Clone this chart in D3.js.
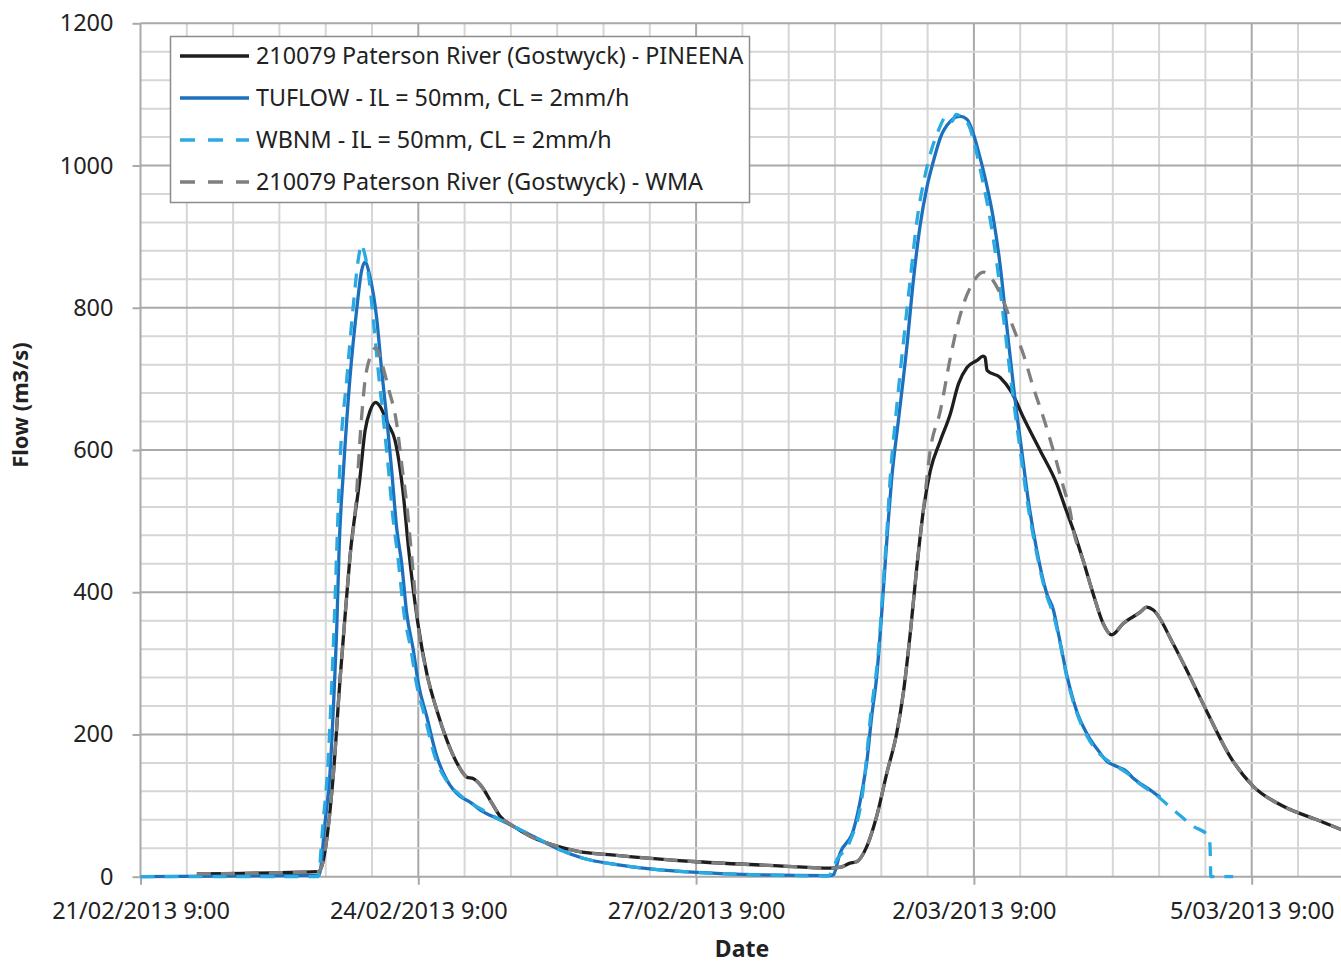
<!DOCTYPE html>
<html>
<head>
<meta charset="utf-8">
<script src="https://cdn.jsdelivr.net/npm/d3@7"></script>
<style>
  html, body { margin: 0; padding: 0; background: #fff; }
  svg { display: block; }
  text { font-family: "Noto Sans", "Open Sans", sans-serif; fill: #222; }
</style>
</head>
<body>
<svg id="chart" width="1341" height="963"></svg>
<script>
// ---- DATA (time = hours after 21/02/2013 9:00, flow in m3/s) ----
const startTime = new Date(2013, 1, 21, 9, 0);
const xTickLabels = ["21/02/2013 9:00", "24/02/2013 9:00", "27/02/2013 9:00", "2/03/2013 9:00", "5/03/2013 9:00"];
const yTicks = [0, 200, 400, 600, 800, 1000, 1200];
const seriesNames = [
  "210079 Paterson River (Gostwyck) - PINEENA",
  "TUFLOW - IL = 50mm, CL = 2mm/h",
  "WBNM - IL = 50mm, CL = 2mm/h",
  "210079 Paterson River (Gostwyck) - WMA"
];

const obsHours = [14.6, 46.0, 46.8, 50.0, 51.7, 53.0, 54.3, 56.9, 58.2, 59.5, 61.0, 62.0, 64.1, 66.0, 68.0, 69.5, 71.9, 74.2, 76.8, 79.4, 82.0, 84.6, 86.2, 88.4, 91.0, 93.2, 96.6, 101.0, 107.9, 113.1, 123.4, 144.2, 166.5, 178.7, 181.2, 183.9, 185.6, 188.2, 190.8, 193.4, 196.0, 197.7, 199.5, 201.2, 202.9, 204.7, 207.3, 209.9, 212.0, 214.2, 216.8, 218.4, 218.9, 219.4, 222.8, 225.8, 228.8, 233.2, 237.5, 239.6, 241.8, 244.3, 246.9, 249.5, 251.7, 254.7, 259.1, 260.8, 262.5, 267.6, 271.2, 276.4, 282.4, 288.4, 296.2, 304.9, 312.2];
const obsFlow  = [4, 7, 12, 145, 276, 365, 450, 562, 627, 655, 667, 662, 637, 613, 543, 460, 356, 286, 234, 192, 160, 140, 138, 127, 104, 85, 71, 57, 43, 36, 30, 21, 15, 12, 13, 19, 21, 42, 85, 145, 202, 258, 342, 435, 515, 571, 613, 651, 693, 716, 726, 732, 730, 712, 702, 681, 646, 599, 552, 520, 487, 445, 398, 356, 340, 356, 372, 379, 375, 328, 290, 232, 169, 127, 99, 80, 64];

const wmaHours = [14.6, 46.0, 46.8, 50.0, 51.7, 53.0, 54.3, 55.6, 57.3, 58.2, 59.9, 61.0, 62.5, 64.2, 66.4, 67.7, 69.0, 70.3, 71.9, 74.2, 76.8, 79.4, 82.0, 84.6, 86.2, 88.4, 91.0, 93.2, 96.6, 101.0, 107.9, 113.1, 123.4, 144.2, 166.5, 178.7, 181.2, 183.9, 185.6, 188.2, 190.8, 193.4, 196.0, 197.7, 199.5, 201.2, 202.9, 204.7, 207.3, 209.9, 211.6, 213.3, 215.5, 218.5, 221.0, 223.6, 226.2, 228.8, 231.4, 234.0, 236.6, 239.2, 240.9, 241.8, 244.3, 246.9, 249.5, 251.7, 254.7, 259.1, 260.8, 262.5, 267.6, 271.2, 276.4, 282.4, 288.4, 296.2, 304.9, 312.2];
const wmaFlow  = [4, 7, 12, 145, 276, 365, 450, 510, 646, 698, 735, 744, 723, 688, 637, 580, 524, 450, 356, 286, 234, 192, 160, 140, 138, 127, 104, 85, 71, 57, 43, 36, 30, 21, 15, 12, 13, 19, 21, 42, 85, 145, 202, 258, 342, 435, 515, 600, 655, 730, 772, 805, 833, 850, 838, 810, 772, 735, 688, 646, 599, 548, 515, 487, 445, 398, 356, 340, 356, 372, 379, 375, 328, 290, 232, 169, 127, 99, 80, 64];

const tuflowHours = [0, 46.3, 47.8, 49.1, 50.0, 50.9, 51.5, 52.6, 54.3, 56.0, 57.3, 58.2, 59.5, 61.2, 62.5, 63.8, 65.1, 66.4, 67.7, 69.0, 70.7, 72.0, 74.2, 76.8, 79.4, 82.8, 85.4, 88.0, 93.2, 98.4, 101.7, 108.7, 114.7, 123.4, 132.1, 144.2, 158.0, 178.7, 179.6, 181.3, 184.8, 186.9, 188.3, 189.5, 190.8, 192.1, 193.0, 193.8, 194.7, 196.4, 198.6, 200.3, 202.1, 203.8, 205.5, 207.3, 209.9, 212.4, 214.2, 215.9, 217.6, 219.3, 221.0, 222.8, 224.5, 226.7, 228.4, 230.1, 232.3, 234.9, 236.6, 237.9, 240.1, 242.7, 245.3, 248.7, 250.5, 252.2, 253.9, 255.6, 257.4, 259.1, 261.2, 263.4, 264.3];
const tuflowFlow  = [0, 2, 75, 145, 239, 356, 465, 571, 702, 796, 852, 864, 843, 786, 712, 646, 571, 490, 440, 370, 319, 272, 225, 169, 136, 113, 105, 94, 80, 66, 57, 38, 26, 17, 11, 6, 3, 1.5, 3, 33, 66, 117, 164, 225, 281, 370, 440, 500, 560, 640, 744, 838, 917, 969, 1006, 1039, 1062, 1069, 1065, 1044, 1011, 973, 927, 860, 775, 669, 599, 529, 459, 398, 375, 342, 283, 232, 201, 174, 162, 157, 153, 148, 138, 131, 124, 115, 112];

const wbnmHours = [0, 46.0, 47.3, 48.6, 49.4, 50.3, 50.9, 51.7, 53.5, 55.1, 56.5, 57.3, 57.9, 59.0, 60.3, 61.6, 62.9, 64.3, 65.4, 66.7, 68.3, 70.1, 71.5, 73.7, 76.3, 79.2, 82.8, 88.0, 93.2, 98.4, 101.7, 108.7, 114.7, 123.4, 132.1, 144.2, 158.0, 178.2, 180.6, 183.9, 187.4, 189.2, 191.3, 192.6, 193.5, 194.3, 195.8, 197.9, 199.6, 201.3, 203.1, 204.9, 206.7, 208.9, 210.3, 211.4, 212.9, 214.8, 216.6, 218.4, 220.2, 222.0, 223.8, 226.2, 228.0, 229.8, 232.1, 234.7, 236.5, 237.9, 240.1, 242.7, 245.3, 248.7, 252.2, 255.6, 259.1, 263.4, 267.7, 272.9, 276.8, 277.2, 277.4, 283.2];
const wbnmFlow  = [0, 0, 75, 160, 250, 370, 465, 581, 702, 800, 870, 889, 880, 850, 786, 712, 646, 571, 506, 450, 370, 319, 272, 225, 169, 136, 115, 96, 80, 66, 57, 38, 26, 17, 11, 6, 3, 1, 25, 50, 127, 225, 320, 420, 490, 560, 650, 760, 845, 925, 980, 1020, 1048, 1069, 1062, 1072, 1068, 1055, 1020, 975, 925, 860, 780, 672, 600, 529, 459, 398, 370, 340, 280, 230, 198, 172, 158, 146, 130, 114, 94, 71, 57, 43, 0, 0];

// ---- CHART ----
const svg = d3.select("#chart");
const HOUR = 3600 * 1000;
const toPts = (hs, vs) => hs.map((h, i) => ({ t: new Date(startTime.getTime() + h * HOUR), v: vs[i] }));

const pL = 140.5, pR = 1344.3, pT = 23.3, pB = 876.7;
const endTime = new Date(startTime.getTime() + 13 * 24 * HOUR);
const x = d3.scaleTime().domain([startTime, endTime]).range([pL, pR]);
const y = d3.scaleLinear().domain([0, 1200]).range([pB, pT]);

// gridlines
const g = svg.append("g");
const minorX = d3.range(0, 13 * 24 + 1, 12).map(h => new Date(startTime.getTime() + h * HOUR));
minorX.forEach((d, i) => {
  if (i === 0) return;
  const major = (i % 6) === 0;
  g.append("line").attr("x1", x(d)).attr("x2", x(d)).attr("y1", pT).attr("y2", pB)
    .attr("stroke", major ? "#a9a9a9" : "#d6d6d6").attr("stroke-width", 2);
});
d3.range(40, 1201, 40).forEach(v => {
  const major = v % 200 === 0;
  g.append("line").attr("x1", pL).attr("x2", 1341).attr("y1", y(v)).attr("y2", y(v))
    .attr("stroke", major ? "#a9a9a9" : "#d6d6d6").attr("stroke-width", 2);
});

// axes
const majorTimes = xTickLabels.map((_, i) => new Date(startTime.getTime() + i * 72 * HOUR));
const xAxis = d3.axisBottom(x).tickValues(majorTimes).tickFormat((d, i) => xTickLabels[i]).tickSize(8).tickPadding(18);
const xg = svg.append("g").attr("transform", `translate(0,${pB})`).call(xAxis);
xg.select(".domain").attr("stroke", "#a9a9a9").attr("stroke-width", 2).attr("d", `M${pL},0H1341`);
xg.selectAll(".tick line").attr("stroke", "#a9a9a9").attr("stroke-width", 2);
xg.selectAll(".tick text").style("font-size", "23.5px").attr("fill", "#222").style("font-family", "'Noto Sans', sans-serif");

const yAxis = d3.axisLeft(y).tickValues(yTicks).tickFormat(d3.format("d")).tickSize(8).tickPadding(19);
const yg = svg.append("g").attr("transform", `translate(${pL},0)`).call(yAxis);
yg.select(".domain").attr("stroke", "#a9a9a9").attr("stroke-width", 2).attr("d", `M0,${pT}V${pB}`);
yg.selectAll(".tick line").attr("stroke", "#a9a9a9").attr("stroke-width", 2);
yg.selectAll(".tick text").style("font-size", "23.5px").attr("fill", "#222").style("font-family", "'Noto Sans', sans-serif");

// axis titles
svg.append("text").attr("x", 742).attr("y", 957).attr("text-anchor", "middle")
  .style("font-size", "23px").style("font-weight", "bold").text("Date");
svg.append("text").attr("transform", "translate(28,405) rotate(-90)").attr("text-anchor", "middle")
  .style("font-size", "22px").style("font-weight", "bold").text("Flow (m3/s)");

// series
svg.append("clipPath").attr("id", "clip").append("rect")
  .attr("x", pL).attr("y", pT - 5).attr("width", 1341 - pL).attr("height", pB - pT + 10);
const line = d3.line().x(d => x(d.t)).y(d => y(d.v)).curve(d3.curveMonotoneX);
const series = [
  { name: seriesNames[0], pts: toPts(obsHours, obsFlow), color: "#1e1e1e", dash: null },
  { name: seriesNames[1], pts: toPts(tuflowHours, tuflowFlow), color: "#1c70be", dash: null },
  { name: seriesNames[2], pts: toPts(wbnmHours, wbnmFlow), color: "#2aaae2", dash: "14,10" },
  { name: seriesNames[3], pts: toPts(wmaHours, wmaFlow), color: "#7f7f7f", dash: "14,10" }
];
const sg = svg.append("g").attr("clip-path", "url(#clip)");
series.forEach(s => {
  sg.append("path").datum(s.pts).attr("d", line).attr("fill", "none")
    .attr("stroke", s.color).attr("stroke-width", 3.3)
    .attr("stroke-dasharray", s.dash).attr("stroke-linejoin", "round");
});

// legend
const lg = svg.append("g");
lg.append("rect").attr("x", 170.5).attr("y", 36.5).attr("width", 579).attr("height", 166)
  .attr("fill", "#fff").attr("stroke", "#8c8c8c").attr("stroke-width", 1.5);
series.forEach((s, i) => {
  const yy = 56 + i * 42;
  lg.append("line").attr("x1", 180).attr("x2", 249).attr("y1", yy).attr("y2", yy)
    .attr("stroke", s.color).attr("stroke-width", 3.5).attr("stroke-dasharray", s.dash ? "15,13" : null);
  lg.append("text").attr("x", 256).attr("y", yy).attr("dy", "0.35em")
    .style("font-size", "23.3px").text(s.name);
});
</script>
</body>
</html>
